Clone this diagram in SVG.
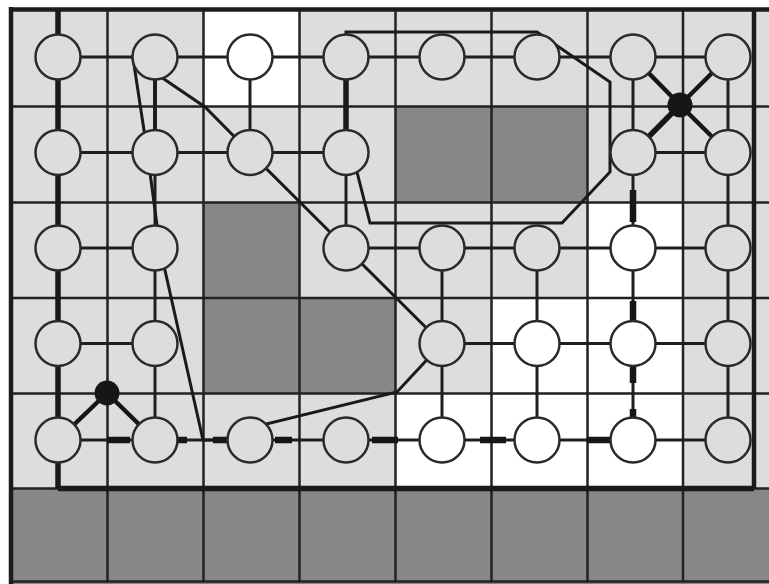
<svg xmlns="http://www.w3.org/2000/svg" width="769" height="584" viewBox="0 0 769 584">
<style>
.light{fill:#dcdddc}
.dark{fill:#878787}
.white{fill:#ffffff}
.grid{stroke:#222;stroke-width:2.5;fill:none}
.frame{stroke:#1c1c1c;stroke-width:4.5;fill:none}
.e{stroke:#1e1e1e;stroke-width:3;fill:none}
.thick{stroke:#1a1a1a;stroke-width:5.5;fill:none}
.cut{stroke:#161616;stroke-width:6.5;fill:none}
.loop{stroke:#1a1a1a;stroke-width:3;fill:none;stroke-linejoin:miter}
.spoke{stroke:#161616;stroke-width:4.5;fill:none}
.n{stroke:#2a2a2a;stroke-width:2.5;fill:#dcdddc}
.nw{stroke:#2a2a2a;stroke-width:2.5;fill:#ffffff}
.dot{fill:#161616}
</style>
<rect x="0" y="0" width="769" height="584" fill="#ffffff"/>
<g id="cells">
<rect class="light" x="11" y="9.5" width="758" height="479"/>
<rect class="dark" x="11" y="488.5" width="758" height="95.5"/>
<rect class="white" x="203.5" y="9.5" width="96" height="97"/>
<rect class="white" x="587.5" y="202.5" width="95.5" height="95.5"/>
<rect class="white" x="491.5" y="298" width="191.5" height="95.5"/>
<rect class="white" x="395.5" y="393.5" width="287.5" height="95"/>
<rect class="dark" x="395.5" y="106.5" width="192" height="96"/>
<rect class="dark" x="203.5" y="202.5" width="96" height="191"/>
<rect class="dark" x="299.5" y="298" width="96" height="95.5"/>
</g>
<g id="gridlines">
<path class="grid" d="M107.5,9.5V582 M203.5,9.5V582 M299.5,9.5V582 M395.5,9.5V582 M491.5,9.5V582 M587.5,9.5V582 M683,9.5V582"/>
<path class="grid" d="M11,106.5H769 M11,202.5H769 M11,298H769 M11,393.5H769 M11,488.5H769 M11,581.5H769"/>
<path class="frame" d="M11,7V584 M9,9.5H769 M754,9.5V488.5"/>
<path class="thick" d="M58,488.5H754"/>
</g>
<g id="connectors">
<!-- column 1 thick edges -->
<line class="thick" x1="58" y1="9.5" x2="58" y2="488.5"/>
<!-- row 1 -->
<line class="e" x1="58" y1="57" x2="155" y2="57"/>
<line class="e" x1="155" y1="57" x2="250" y2="57"/>
<line class="e" x1="250" y1="57" x2="346" y2="57"/>
<line class="e" x1="346" y1="57" x2="442" y2="57"/>
<line class="e" x1="442" y1="57" x2="537" y2="57"/>
<line class="e" x1="537" y1="57" x2="633" y2="57"/>
<line class="e" x1="633" y1="57" x2="728" y2="57"/>
<!-- row 2 -->
<line class="e" x1="58" y1="152.5" x2="155" y2="152.5"/>
<line class="e" x1="155" y1="152.5" x2="250" y2="152.5"/>
<line class="e" x1="250" y1="152.5" x2="346" y2="152.5"/>
<line class="e" x1="633" y1="152.5" x2="728" y2="152.5"/>
<!-- row 3 -->
<line class="e" x1="58" y1="248" x2="155" y2="248"/>
<line class="e" x1="346" y1="248" x2="442" y2="248"/>
<line class="e" x1="442" y1="248" x2="537" y2="248"/>
<line class="e" x1="537" y1="248" x2="633" y2="248"/>
<line class="e" x1="633" y1="248" x2="728" y2="248"/>
<!-- row 4 -->
<line class="e" x1="58" y1="343.5" x2="155" y2="343.5"/>
<line class="e" x1="442" y1="343.5" x2="537" y2="343.5"/>
<line class="e" x1="537" y1="343.5" x2="633" y2="343.5"/>
<line class="e" x1="633" y1="343.5" x2="728" y2="343.5"/>
<!-- row 5 -->
<line class="e" x1="58" y1="440" x2="155" y2="440"/>
<line class="e" x1="155" y1="440" x2="250" y2="440"/>
<line class="e" x1="250" y1="440" x2="346" y2="440"/>
<line class="e" x1="346" y1="440" x2="442" y2="440"/>
<line class="e" x1="442" y1="440" x2="537" y2="440"/>
<line class="e" x1="537" y1="440" x2="633" y2="440"/>
<line class="e" x1="633" y1="440" x2="728" y2="440"/>
<!-- verticals -->
<line class="e" x1="155" y1="57" x2="155" y2="152.5" style="stroke-width:4"/>
<line class="e" x1="155" y1="152.5" x2="155" y2="248"/>
<line class="e" x1="155" y1="248" x2="155" y2="343.5"/>
<line class="e" x1="155" y1="343.5" x2="155" y2="440"/>
<line class="e" x1="250" y1="57" x2="250" y2="152.5"/>
<line class="thick" x1="346" y1="57" x2="346" y2="152.5"/>
<line class="e" x1="346" y1="152.5" x2="346" y2="248"/>
<line class="e" x1="442" y1="248" x2="442" y2="343.5"/>
<line class="e" x1="442" y1="343.5" x2="442" y2="440"/>
<line class="e" x1="537" y1="248" x2="537" y2="343.5"/>
<line class="e" x1="537" y1="343.5" x2="537" y2="440"/>
<line class="e" x1="633" y1="57" x2="633" y2="152.5"/>
<line class="e" x1="633" y1="152.5" x2="633" y2="248"/>
<line class="e" x1="633" y1="248" x2="633" y2="343.5"/>
<line class="e" x1="633" y1="343.5" x2="633" y2="440"/>
<line class="e" x1="728" y1="57" x2="728" y2="152.5"/>
<line class="e" x1="728" y1="152.5" x2="728" y2="248"/>
<line class="e" x1="728" y1="248" x2="728" y2="343.5"/>
<line class="e" x1="728" y1="343.5" x2="728" y2="440"/>
<!-- cut marks -->
<path class="cut" d="M108,440H130 M178,440H187 M213,440H228 M275,440H292 M372,440H398 M480,440H506 M587,440H610"/>
<path class="cut" d="M633,190V222 M633,301V320 M633,367V383 M633,409V417"/>
<!-- loops -->
<path class="loop" d="M203,440 L160,248 L147,150 L133,58 L205,107 L250,152.5 L346,248 L442,343.5 L397,392 L262,425 L250,440 Z"/>
<path class="loop" d="M346,32 L537,32 L610,82 L610,172 L562,223 L370,223 L352,152.5 L346,152.5 Z"/>
<!-- spokes -->
<line class="spoke" x1="680" y1="105" x2="633" y2="57"/>
<line class="spoke" x1="680" y1="105" x2="728" y2="57"/>
<line class="spoke" x1="680" y1="105" x2="633" y2="152.5" style="stroke-width:5.5"/>
<line class="spoke" x1="680" y1="105" x2="728" y2="152.5"/>
<line class="spoke" x1="107" y1="393" x2="58" y2="440"/>
<line class="spoke" x1="107" y1="393" x2="155" y2="440"/>
</g>
<g id="n1-1"><circle class="n" cx="58" cy="57" r="22.5"/></g>
<g id="n1-2"><circle class="n" cx="155" cy="57" r="22.5"/></g>
<g id="n1-3"><circle class="nw" cx="250" cy="57" r="22.5"/></g>
<g id="n1-4"><circle class="n" cx="346" cy="57" r="22.5"/></g>
<g id="n1-5"><circle class="n" cx="442" cy="57" r="22.5"/></g>
<g id="n1-6"><circle class="n" cx="537" cy="57" r="22.5"/></g>
<g id="n1-7"><circle class="n" cx="633" cy="57" r="22.5"/></g>
<g id="n1-8"><circle class="n" cx="728" cy="57" r="22.5"/></g>
<g id="n2-1"><circle class="n" cx="58" cy="152.5" r="22.5"/></g>
<g id="n2-2"><circle class="n" cx="155" cy="152.5" r="22.5"/></g>
<g id="n2-3"><circle class="n" cx="250" cy="152.5" r="22.5"/></g>
<g id="n2-4"><circle class="n" cx="346" cy="152.5" r="22.5"/></g>
<g id="n2-7"><circle class="n" cx="633" cy="152.5" r="22.5"/></g>
<g id="n2-8"><circle class="n" cx="728" cy="152.5" r="22.5"/></g>
<g id="n3-1"><circle class="n" cx="58" cy="248" r="22.5"/></g>
<g id="n3-2"><circle class="n" cx="155" cy="248" r="22.5"/></g>
<g id="n3-4"><circle class="n" cx="346" cy="248" r="22.5"/></g>
<g id="n3-5"><circle class="n" cx="442" cy="248" r="22.5"/></g>
<g id="n3-6"><circle class="n" cx="537" cy="248" r="22.5"/></g>
<g id="n3-7"><circle class="nw" cx="633" cy="248" r="22.5"/></g>
<g id="n3-8"><circle class="n" cx="728" cy="248" r="22.5"/></g>
<g id="n4-1"><circle class="n" cx="58" cy="343.5" r="22.5"/></g>
<g id="n4-2"><circle class="n" cx="155" cy="343.5" r="22.5"/></g>
<g id="n4-5"><circle class="n" cx="442" cy="343.5" r="22.5"/></g>
<g id="n4-6"><circle class="nw" cx="537" cy="343.5" r="22.5"/></g>
<g id="n4-7"><circle class="nw" cx="633" cy="343.5" r="22.5"/></g>
<g id="n4-8"><circle class="n" cx="728" cy="343.5" r="22.5"/></g>
<g id="n5-1"><circle class="n" cx="58" cy="440" r="22.5"/></g>
<g id="n5-2"><circle class="n" cx="155" cy="440" r="22.5"/></g>
<g id="n5-3"><circle class="n" cx="250" cy="440" r="22.5"/></g>
<g id="n5-4"><circle class="n" cx="346" cy="440" r="22.5"/></g>
<g id="n5-5"><circle class="nw" cx="442" cy="440" r="22.5"/></g>
<g id="n5-6"><circle class="nw" cx="537" cy="440" r="22.5"/></g>
<g id="n5-7"><circle class="nw" cx="633" cy="440" r="22.5"/></g>
<g id="n5-8"><circle class="n" cx="728" cy="440" r="22.5"/></g>
<g id="junction-top"><circle class="dot" cx="680" cy="105" r="12.5"/></g>
<g id="junction-bottom"><circle class="dot" cx="107" cy="393" r="12.5"/></g>
</svg>
